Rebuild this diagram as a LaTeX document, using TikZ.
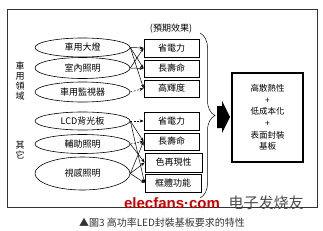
\documentclass[tikz,border=0pt]{standalone}
\usepackage{fontspec}
\setmainfont{Noto Sans CJK TC}
\newfontfamily\wmfont{Liberation Sans}
\newfontfamily\scfont{Noto Sans CJK SC}
\usetikzlibrary{shapes.geometric,arrows.meta,decorations.pathreplacing}
\begin{document}
\begin{tikzpicture}[x=1pt,y=-1pt,
  every node/.style={inner sep=0pt},
  oval/.style={draw, ellipse, minimum width=95pt, line width=0.6pt, font=\fontsize{9}{10}\selectfont},
  effbox/.style={draw, rectangle, minimum width=55pt, minimum height=17pt, line width=0.8pt, font=\fontsize{9}{10}\selectfont},
  link/.style={-{Stealth[length=4pt,width=3pt]}, line width=0.5pt},
  dlink/.style={link, dash pattern=on 2pt off 1.5pt},
  vlabel/.style={align=center, font=\fontsize{9}{10}\selectfont},
]
\useasboundingbox (0,0) rectangle (323,230);
% frame
\draw[line width=0.6pt, black!80] (7,9) rectangle (317,207);

% ellipses
\node[oval, minimum height=19pt] (e1) at (82.5,47.5) {車用大燈};
\node[oval, minimum height=21pt] (e2) at (82.5,68) {室內照明};
\node[oval, minimum height=20pt] (e3) at (82.5,92) {車用監視器};
\node[oval, minimum height=18pt] (e4) at (82.5,121) {LCD背光板};
\node[oval, minimum height=19pt] (e5) at (82.5,144) {輔助照明};
\node[oval, minimum height=33pt] (e6) at (82.5,173.5) {視感照明};

% side labels
\node[vlabel] (l1) at (20,81) {車\\用\\領\\域};
\node[vlabel] (l2) at (20,150) {其\\它};

% effect header
\node[font=\fontsize{9}{10}\selectfont] (hd) at (171,29) {(預期效果)};

% effect boxes
\node[effbox, minimum height=18pt] (b1) at (171.5,48) {省電力};
\node[effbox] (b2) at (171.5,68.5) {長壽命};
\node[effbox] (b3) at (171.5,88.5) {高輝度};
\node[effbox, minimum height=18pt] (b4) at (171.5,121) {省電力};
\node[effbox] (b5) at (171.5,141.5) {長壽命};
\node[effbox, minimum width=57pt, minimum height=19pt] (b6) at (173.5,162.5) {色再現性};
\node[effbox, minimum width=56pt, minimum height=18pt] (b7) at (173,183) {框體功能};

% connectors, group 1
\draw[link] (e1.east) -- (b1.west);
\draw[link] (e1.east) -- (b2.west);
\draw[link] (e1.east) -- (b3.west);
\draw[link] (e2.east) -- (b1.west);
\draw[link] (e2.east) -- (b2.west);
\draw[dlink] (e3.east) -- (b3.west);
% connectors, group 2
\draw[dlink] (e4.east) -- (b4.west);
\draw[link] (e4.east) -- (b5.west);
\draw[link] (e4.east) -- (b7.west);
\draw[dlink] (e5.east) -- (b5.west);
\draw[link] (e5.east) -- (b6.west);
\draw[link] (e6.east) -- (b5.west);
\draw[link] (e6.east) -- (b6.west);
\draw[link] (e6.east) -- (b7.west);

% brace
\draw[line width=0.5pt, decorate, decoration={brace, amplitude=15pt}] (200,33) -- (200,198);

% block arrow
\fill (217,106) -- (222,106) -- (222,101) -- (230,117) -- (222,133) -- (222,128) -- (217,128) -- cycle;

% result box
\node[draw, line width=2pt, minimum width=71pt, minimum height=89pt, align=center,
      font=\fontsize{8.5}{11.6}\selectfont] (res) at (267.5,117.5)
  {高散熱性\\+\\低成本化\\+\\表面封裝\\基板};

% watermark
\node[font=\wmfont\bfseries\fontsize{15}{16}\selectfont, text=red!80!black] (wm1) at (172,203) {elecfans·com};
\node[font=\scfont\fontsize{15}{16}\selectfont, text=black!70] (wm2) at (266,203) {电子发烧友};

% caption
\node[font=\fontsize{10}{11}\selectfont, text=black!80] (cap) at (162,223) {▲圖3 高功率LED封裝基板要求的特性};
\end{tikzpicture}
\end{document}
